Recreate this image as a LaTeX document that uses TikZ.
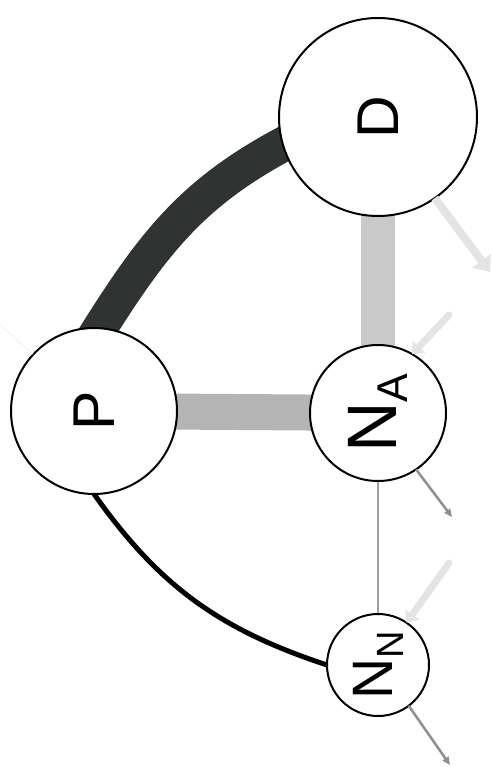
\documentclass[tikz,border=0pt]{standalone}
\usepackage{fontspec}
\setmainfont{Liberation Sans}
\usetikzlibrary{arrows.meta,backgrounds}
\definecolor{darkband}{RGB}{49,51,50}
\definecolor{midband}{RGB}{180,180,180}
\definecolor{lightband}{RGB}{201,201,201}
\definecolor{faintarrow}{RGB}{227,228,227}
\definecolor{grayarrow}{RGB}{143,143,143}
\definecolor{thinline}{RGB}{160,160,160}
\begin{document}
\begin{tikzpicture}[x=1pt,y=1pt,
  vertex/.style={circle,draw=black,line width=2pt,fill=white,inner sep=0pt,outer sep=0pt},
  lightarr/.style={line width=7pt,faintarrow,line cap=round,-{Triangle[length=10pt,width=17pt]}},
  grayarr/.style={line width=2.5pt,grayarrow,-{Triangle[length=8pt,width=7pt]}}]
\useasboundingbox (0,0) rectangle (491,-767);
\node[vertex,minimum size=198pt] (D) at (378,-117) {\rotatebox{90}{\fontsize{59}{59}\selectfont D}};
\node[vertex,minimum size=166pt] (P) at (94,-411) {\rotatebox{90}{\fontsize{59}{59}\selectfont P}};
\node[vertex,minimum size=136pt] (NA) at (378,-413) {\rotatebox{90}{\fontsize{70}{70}\selectfont N\raisebox{-11pt}{\fontsize{43}{43}\selectfont A}}};
\node[vertex,minimum size=102pt] (NN) at (378,-665) {\rotatebox{90}{\fontsize{57}{57}\selectfont N\raisebox{-11pt}{\fontsize{38}{38}\selectfont N}}};
\coordinate (dOut) at (490,-272);
\coordinate (naIn) at (449,-315);
\coordinate (naOut) at (452,-517);
\coordinate (nnIn) at (449,-563);
\coordinate (nnOut) at (450,-765);
\coordinate (pIn) at (-2,-323);
\begin{pgfonlayer}{background}
\draw[line width=35pt,darkband,shorten <=-15pt,shorten >=-15pt] (P.86) to[out=58,in=207] (D.196);
\draw[line width=36pt,midband] (P.center) -- (NA.center);
\draw[line width=34pt,lightband] (D.center) -- (NA.center);
\draw[line width=2pt,thinline] (NA.center) -- (NN.center);
\draw[line width=5pt,black,shorten <=-4pt,shorten >=-4pt] (P.270) to[out=-55,in=162] (NN.180);
\end{pgfonlayer}
\draw[line width=8pt,faintarrow,-{Triangle[length=14pt,width=22pt]}] (D.-55) -- (dOut);
\draw[lightarr] (naIn) -- (NA.60);
\draw[grayarr] (NA.-56) -- (naOut);
\draw[lightarr] (nnIn) -- (NN.56);
\draw[grayarr] (NN.-53) -- (nnOut);
\draw[line width=0.8pt,gray!12] (pIn) -- (P.137);
\end{tikzpicture}
\end{document}
